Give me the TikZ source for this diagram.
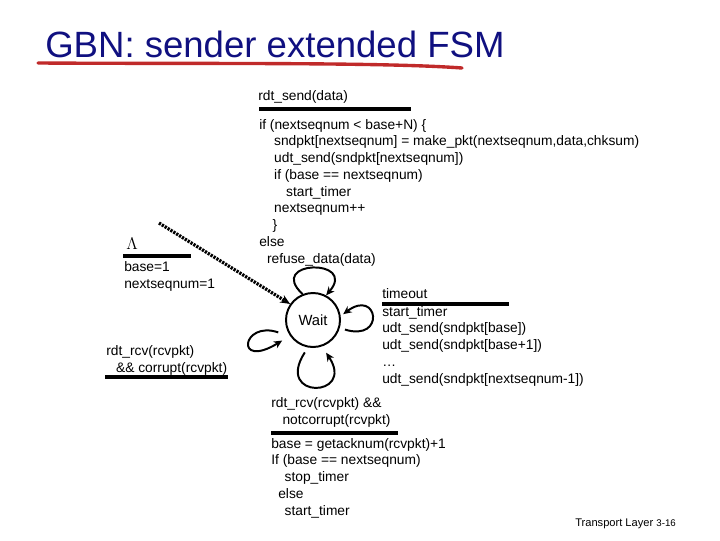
\documentclass[tikz,border=0pt]{standalone}
\usepackage{fontspec}
\setmainfont{Liberation Sans}
\usetikzlibrary{arrows.meta}
\definecolor{titleblue}{RGB}{16,16,128}
\definecolor{penred}{RGB}{192,42,42}

\begin{document}
\begin{tikzpicture}[x=0.025cm, y=-0.025cm,
    code/.style={anchor=base west, inner sep=0pt, align=left, font=\fontsize{9.8}{11.9}\selectfont},
    rulebar/.style={line width=2.6pt},
    selfloop/.style={line width=1.4pt, -{Stealth[length=6pt, width=5.5pt]}},
    state/.style={circle, draw, line width=1.4pt, minimum size=1.35cm, inner sep=0pt, font=\fontsize{10.5}{12}\selectfont}]
    \useasboundingbox (0,0) rectangle (720,540);

    \node[anchor=base west, inner sep=0pt, text=titleblue, font=\fontsize{26}{30}\selectfont] (title) at (45,57) {GBN: sender extended FSM};
    \draw[penred, line width=2.4pt, line cap=round] (38,63) .. controls (200,64) and (380,62) .. (462,68);

    \node[state] (wait) at (313,320) {Wait};
    \coordinate (init) at (159,223);
    \draw[line width=2.3pt, dash pattern=on 1.6pt off 0.8pt, -{Stealth[length=7pt, width=6pt]}] (init) -- (wait.145);

    \draw[selfloop] (wait.112) .. controls (266,260) and (358,258) .. (wait.62);
    \draw[selfloop] ([xshift=4pt]wait.-20) .. controls (386,342) and (378,288) .. ([xshift=2pt]wait.12);
    \draw[selfloop] ([shift={(-6pt,-2pt)}]wait.200) .. controls (242,320) and (234,370) .. ([shift={(-5.6pt,-3.2pt)}]wait.215);
    \draw[selfloop] ([yshift=-4pt]wait.-107) .. controls (274,400) and (356,398) .. ([yshift=-5.7pt]wait.-62);

    \node[anchor=base west, inner sep=0pt, font=\fontsize{11.5}{12}\selectfont] (lambda) at (126,249) {$\Lambda$};
    \draw[rulebar] (123,256) -- (191,256);
    \node[code] (initact) at (124,288) {base=1\\nextseqnum=1};

    \node[code] (send) at (258,100) {rdt\_send(data)};
    \draw[rulebar] (259,109) -- (411,109);
    \node[code] (sendact) at (259,263) {if (nextseqnum < base+N) \{\\
      \hspace*{10.6pt}sndpkt[nextseqnum] = make\_pkt(nextseqnum,data,chksum)\\
      \hspace*{10.6pt}udt\_send(sndpkt[nextseqnum])\\
      \hspace*{10.6pt}if (base == nextseqnum)\\
      \hspace*{19.1pt}start\_timer\\
      \hspace*{10.6pt}nextseqnum++\\
      \hspace*{9.5pt}\}\\
      else\\
      \hspace*{5.5pt}refuse\_data(data)};

    \node[code] (corrupt) at (106,372) {rdt\_rcv(rcvpkt)\\\hspace*{7pt}\&\& corrupt(rcvpkt)};
    \draw[rulebar] (105,377) -- (228,377);

    \node[code] (timeout) at (382,298) {timeout};
    \draw[rulebar] (382,304) -- (509,304);
    \node[code] (timeoutact) at (382,383) {start\_timer\\
      udt\_send(sndpkt[base])\\
      udt\_send(sndpkt[base+1])\\
      \ldots\\
      udt\_send(sndpkt[nextseqnum-1])};

    \node[code] (ack) at (271,424) {rdt\_rcv(rcvpkt) \&\&\\\hspace*{8pt}notcorrupt(rcvpkt)};
    \draw[rulebar] (271,433) -- (398,433);
    \node[code] (ackact) at (271,515) {base = getacknum(rcvpkt)+1\\
      If (base == nextseqnum)\\
      \hspace*{9.5pt}stop\_timer\\
      \hspace*{5pt}else\\
      \hspace*{9.5pt}start\_timer};

    \node[anchor=base west, inner sep=0pt, font=\fontsize{7.9}{10}\selectfont] (footer) at (575,526) {Transport Layer {\fontsize{6.9}{9}\selectfont 3-16}};
\end{tikzpicture}
\end{document}
